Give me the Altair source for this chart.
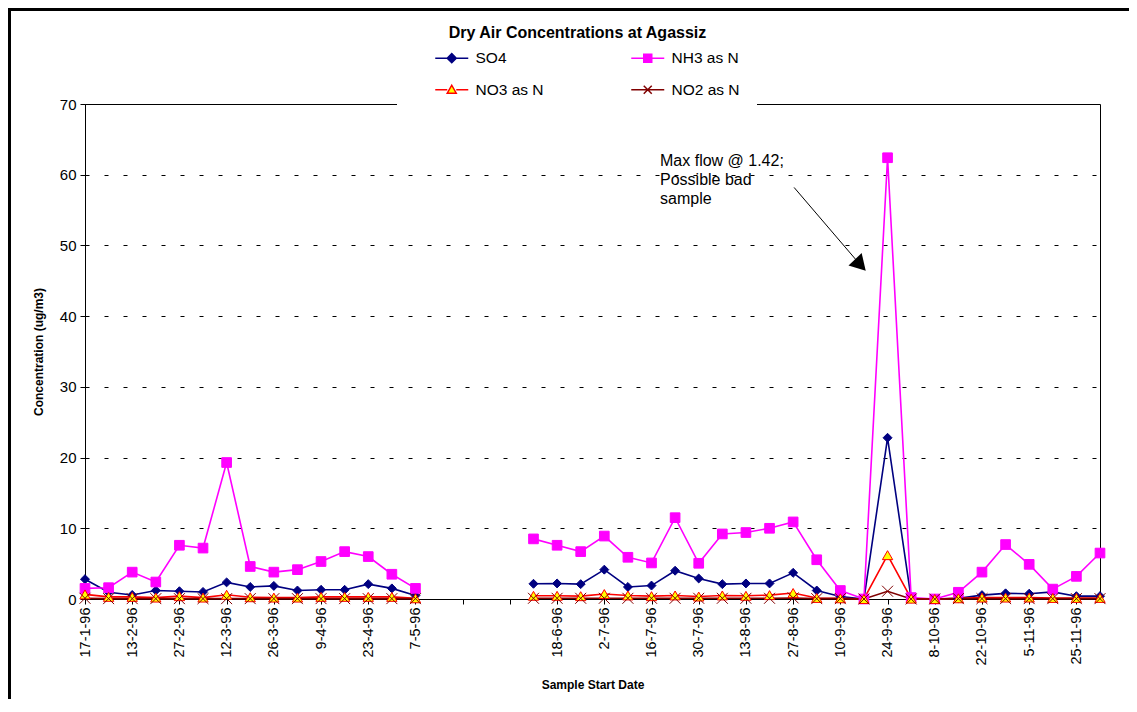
import json
import altair as alt
import pandas as pd

# ---------------- data ----------------
dates = ["17-1-96", "30-1-96", "13-2-96", "20-2-96", "27-2-96", "5-3-96", "12-3-96",
         "19-3-96", "26-3-96", "2-4-96", "9-4-96", "16-4-96", "23-4-96", "30-4-96",
         "7-5-96", "", "", "", "",
         "11-6-96", "18-6-96", "25-6-96", "2-7-96", "9-7-96", "16-7-96", "23-7-96",
         "30-7-96", "6-8-96", "13-8-96", "20-8-96", "27-8-96", "3-9-96", "10-9-96",
         "17-9-96", "24-9-96", "1-10-96", "8-10-96", "15-10-96", "22-10-96",
         "29-10-96", "5-11-96", "15-11-96", "25-11-96", "2-12-96"]

so4 = [2.8, 0.95, 0.57, 1.2, 1.1, 1.0, 2.35, 1.7, 1.85, 1.2, 1.3, 1.3, 2.1, 1.5, 0.5,
       None, None, None, None,
       2.15, 2.2, 2.1, 4.15, 1.7, 1.9, 4.0, 2.9, 2.1, 2.2, 2.2, 3.7, 1.2, 0.35, 0.0,
       22.8, 0.05, 0.0, 0.1, 0.55, 0.8, 0.75, 1.0, 0.4, 0.4]
nh3 = [1.5, 1.6, 3.8, 2.4, 7.6, 7.2, 19.3, 4.6, 3.8, 4.15, 5.3, 6.7, 6.0, 3.5, 1.5,
       None, None, None, None,
       8.5, 7.6, 6.7, 8.9, 5.9, 5.1, 11.5, 5.05, 9.2, 9.4, 10.0, 10.9, 5.55, 1.2, 0.0,
       62.4, 0.2, 0.0, 0.95, 3.8, 7.7, 4.9, 1.4, 3.2, 6.5]
no3 = [0.65, 0.3, 0.3, 0.2, 0.4, 0.2, 0.6, 0.25, 0.2, 0.2, 0.3, 0.3, 0.3, 0.3, 0.1,
       None, None, None, None,
       0.45, 0.45, 0.4, 0.7, 0.5, 0.4, 0.5, 0.35, 0.5, 0.45, 0.55, 0.85, 0.15, 0.1, 0.0,
       6.2, 0.05, 0.0, 0.1, 0.2, 0.2, 0.2, 0.15, 0.15, 0.15]
no2 = [0.1, 0.05, 0.05, 0.05, 0.05, 0.05, 0.05, 0.05, 0.05, 0.05, 0.05, 0.05, 0.05, 0.05, 0.05,
       None, None, None, None,
       0.1, 0.1, 0.1, 0.1, 0.1, 0.1, 0.1, 0.1, 0.1, 0.1, 0.1, 0.15, 0.05, 0.05, 0.0,
       1.1, 0.0, 0.0, 0.05, 0.05, 0.05, 0.05, 0.05, 0.05, 0.05]

series_names = ["SO4", "NH3 as N", "NO3 as N", "NO2 as N"]
series_values = [so4, nh3, no3, no2]
line_colors = ["#000080", "#FF00FF", "#FF0000", "#800000"]
marker_fills = ["#000080", "#FF00FF", "#FFFF00", "#800000"]
marker_shapes = ["diamond", "square", "triangle-up", "M-1,-1L1,1M-1,1L1,-1"]
marker_sizes = [80, 120, 85, 60]
marker_widths = [1, 1, 1, 1.5]
legend_shapes = [
    "M-3.3,0H3.3M0,-0.9L0.9,0L0,0.9L-0.9,0Z",
    "M-3.3,0H-0.8M0.8,0H3.3M-0.8,-0.8H0.8V0.8H-0.8Z",
    "M-3.3,0H-0.9M0.9,0H3.3M0,-0.9L0.9,0.7H-0.9Z",
    "M-3.3,0H3.3M-0.8,-0.8L0.8,0.8M-0.8,0.8L0.8,-0.8",
]

y_ticks = [0, 10, 20, 30, 40, 50, 60, 70]

note_text = "Max flow @ 1.42;\nPossible bad\nsample"
note_pos = [24.36, 61.2]
arrow_from = [30.04, 58.2]
arrow_to = [32.85, 47.24]

# ---------------- tables ----------------
rows = []
for name, vals in zip(series_names, series_values):
    seg = 0
    for i, v in enumerate(vals):
        if v is None:
            if i > 0 and vals[i - 1] is not None:
                seg += 1
            continue
        rows.append({"idx": i, "date": dates[i], "series": name, "value": v, "segment": seg})
df = pd.DataFrame(rows)

tick_labels = [d if i % 2 == 0 else "" for i, d in enumerate(dates)]
label_expr = json.dumps(tick_labels) + "[datum.value]"

FONT = "Liberation Sans"
xscale = alt.Scale(domain=[0, len(dates) - 1], nice=False, zero=False)
yscale = alt.Scale(domain=[0, 70], nice=False)

x_axis = alt.Axis(values=list(range(len(dates))), labelExpr=label_expr, labelAngle=270,
                  labelAlign="right", labelBaseline="middle", labelFontSize=14.5,
                  labelColor="black", labelPadding=3, labelOverlap=False, labelBound=False,
                  tickSize=5, tickColor="black", domainColor="black", grid=False,
                  title="Sample Start Date", titleFontSize=12, titleFontWeight="bold",
                  titleColor="black", titleBaseline="top", titleY=80)
y_axis = alt.Axis(values=y_ticks, format="d", labelFontSize=15, labelColor="black",
                  labelPadding=4, tickSize=5, tickColor="black", domainColor="black",
                  grid=True, gridDash=[4, 15], gridColor="black", gridOpacity=1,
                  title="Concentration (ug/m3)", titleFontSize=12, titleFontWeight="bold",
                  titleColor="black", titlePadding=14)

base = alt.Chart(df)

frame = alt.Chart(pd.DataFrame({"k": [0]})).mark_rect(
    fill="transparent", stroke="black", strokeWidth=3
).encode(x=alt.value(-75.5), x2=alt.value(1200), y=alt.value(-94.5), y2=alt.value(700))

cover = alt.Chart(pd.DataFrame({"k": [0]})).mark_rect(fill="white").encode(
    x=alt.value(312), x2=alt.value(672), y=alt.value(-3), y2=alt.value(3))

lines = base.mark_line(strokeWidth=1.6).encode(
    x=alt.X("idx:Q", scale=xscale, axis=x_axis),
    y=alt.Y("value:Q", scale=yscale, axis=y_axis),
    color=alt.Color("series:N", scale=alt.Scale(domain=series_names, range=line_colors), legend=None),
    detail="segment:N",
)

points = base.mark_point(filled=True, opacity=1).encode(
    x="idx:Q",
    y="value:Q",
    shape=alt.Shape("series:N", scale=alt.Scale(domain=series_names, range=marker_shapes), legend=None),
    fill=alt.Fill("series:N", scale=alt.Scale(domain=series_names, range=marker_fills), legend=None),
    stroke=alt.Stroke("series:N", scale=alt.Scale(domain=series_names, range=line_colors), legend=None),
    size=alt.Size("series:N", scale=alt.Scale(domain=series_names, range=marker_sizes), legend=None),
    strokeWidth=alt.StrokeWidth("series:N", scale=alt.Scale(domain=series_names, range=marker_widths), legend=None),
)

leg = alt.Legend(title=None, orient="none", legendX=347, legendY=-66, columns=2,
                 direction="horizontal",
                 symbolSize=100, symbolStrokeWidth=1.5, labelFontSize=15.5, labelFont=FONT,
                 labelColor="black", labelOffset=16, columnPadding=84, rowPadding=15,
                 padding=12, fillColor="white", symbolOpacity=1)

legend_layer = alt.Chart(pd.DataFrame({"series": series_names})).mark_point(
    filled=True, strokeWidth=1.5, opacity=0
).encode(
    x=alt.value(0), y=alt.value(0),
    shape=alt.Shape("series:N", scale=alt.Scale(domain=series_names, range=legend_shapes), legend=leg),
    fill=alt.Fill("series:N", scale=alt.Scale(domain=series_names, range=marker_fills), legend=leg),
    stroke=alt.Stroke("series:N", scale=alt.Scale(domain=series_names, range=line_colors), legend=leg),
)

note = alt.Chart(pd.DataFrame({"x": [note_pos[0]], "y": [note_pos[1]], "t": [note_text]})).mark_text(
    align="left", baseline="alphabetic", fontSize=16, lineHeight=19, lineBreak="\n",
    font=FONT, color="black"
).encode(x="x:Q", y="y:Q", text="t:N")

arrow = alt.Chart(pd.DataFrame({"x": [arrow_from[0]], "y": [arrow_from[1]],
                                "x2": [arrow_to[0]], "y2": [arrow_to[1]]})).mark_rule(
    color="black", strokeWidth=1
).encode(x="x:Q", y="y:Q", x2="x2:Q", y2="y2:Q")

head = alt.Chart(pd.DataFrame({"x": [arrow_to[0]], "y": [arrow_to[1]]})).mark_point(
    shape="triangle-up", filled=True, color="black", size=324, angle=136.9, opacity=1
).encode(x="x:Q", y="y:Q")

chart = alt.layer(legend_layer, frame, cover, lines, points, note, arrow, head).resolve_scale(
    shape="independent", fill="independent", stroke="independent"
).properties(
    width=1015, height=495,
    title=alt.Title("Dry Air Concentrations at Agassiz", fontSize=16, font=FONT,
                    fontWeight="bold", anchor="middle", frame="group", dx=-15, dy=34,
                    offset=1, color="black"),
    autosize=alt.AutoSizeParams(type="none"),
    padding={"left": 77, "top": 96, "right": 29, "bottom": 100},
).configure(font=FONT, background="white").configure_view(stroke="black", strokeWidth=1)

chart.save("out.html", embed_options={"renderer": "svg", "actions": False})
